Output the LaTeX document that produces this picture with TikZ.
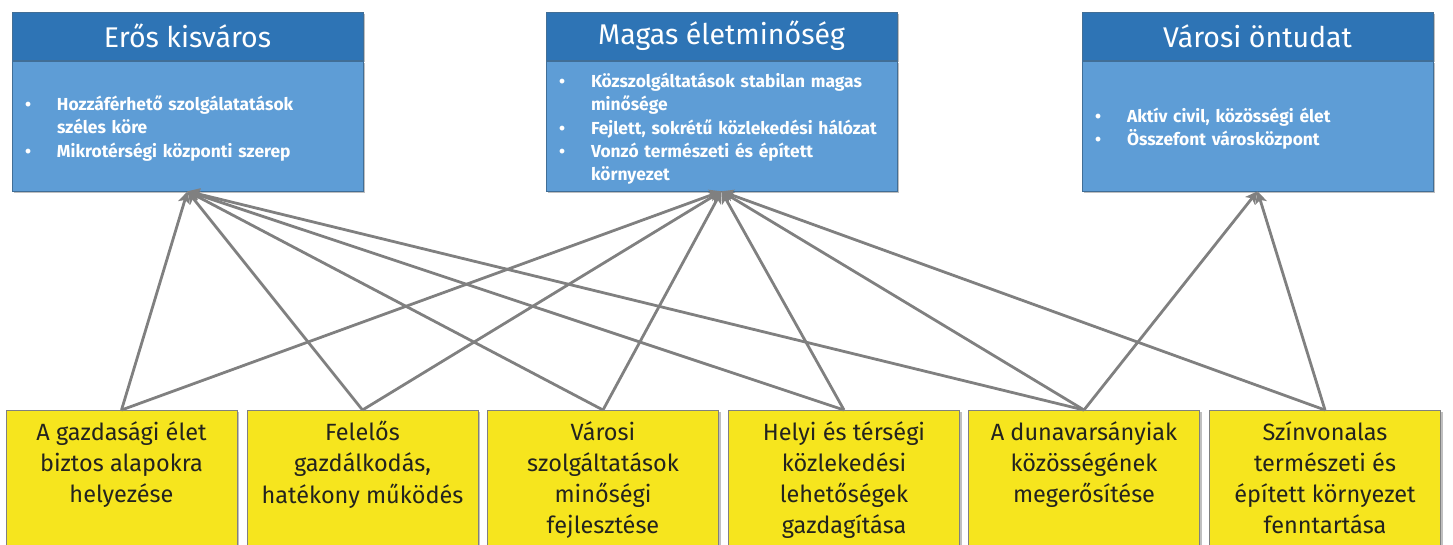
\documentclass[tikz,border=0pt]{standalone}
\usepackage{fontspec}
\setmainfont{Fira Sans}
\usetikzlibrary{arrows.meta,shadows}
\definecolor{hdrblue}{RGB}{46,116,181}
\definecolor{bodyblue}{RGB}{94,157,214}
\definecolor{edgeblue}{RGB}{65,110,150}
\definecolor{ylw}{RGB}{246,229,30}
\definecolor{conngray}{RGB}{128,128,128}
\definecolor{darktext}{RGB}{35,35,30}
\newcommand{\bitem}[1]{\par\noindent\makebox[32pt][l]{\textbullet}\begin{tabular}[t]{@{}l@{}}#1\end{tabular}}
\tikzset{
  shad/.style={drop shadow={shadow xshift=2pt,shadow yshift=-2pt,opacity=0.25,fill=black}},
  hdr/.style={shad,draw=edgeblue,line width=0.6pt,fill=hdrblue,minimum width=351pt,minimum height=48pt,inner sep=0pt,text=white,font=\fontsize{28.5}{32}\selectfont},
  bodybox/.style={shad,draw=edgeblue,line width=0.6pt,fill=bodyblue,minimum width=351pt,minimum height=130pt,inner xsep=13pt,inner ysep=0pt,text width=325pt,align=left,text=white,font=\fontsize{17.4}{23}\bfseries\selectfont},
  goalbox/.style={shad,draw=conngray,line width=0.8pt,fill=ylw,minimum width=231pt,minimum height=170pt,anchor=north,inner sep=0pt},
  goaltext/.style={anchor=north,inner sep=0pt,align=center,text=darktext,font=\fontsize{23.5}{31.2}\selectfont},
  conn/.style={draw=conngray,line width=2.8pt,-{Stealth[length=12pt,width=12pt,inset=3pt]}}
}
\begin{document}
\begin{tikzpicture}[x=1pt,y=-1pt]
\useasboundingbox (0,0) rectangle (1453,545);
\clip (0,0) rectangle (1453,545);
% top boxes
\node[hdr] (Ah) at (187.5,36) {Erős kisváros};
\node[bodybox] (Ab) at (187.5,126) {\bitem{Hozzáférhető szolgálatatások\\széles köre}\bitem{Mikrotérségi központi szerep}};
\node[hdr] (Bh) at (721.5,36) {Magas életminőség};
\node[bodybox] (Bb) at (721.5,126) {\bitem{Közszolgáltatások stabilan magas\\minősége}\bitem{Fejlett, sokrétű közlekedési hálózat}\bitem{Vonzó természeti és épített\\környezet}};
\node[hdr] (Ch) at (1257.5,36) {Városi öntudat};
\node[bodybox] (Cb) at (1257.5,126) {\bitem{Aktív civil, közösségi élet}\bitem{Összefont városközpont}};
% bottom boxes
\node[goalbox] (g1) at (121.5,410) {};
\node[goalbox] (g2) at (362.5,410) {};
\node[goalbox] (g3) at (603,410) {};
\node[goalbox] (g4) at (844,410) {};
\node[goalbox] (g5) at (1084,410) {};
\node[goalbox] (g6) at (1325,410) {};
\node[goaltext] (t1) at (121.5,421) {A gazdasági élet\\biztos alapokra\\helyezése};
\node[goaltext] (t2) at (362.5,421) {Felelős\\gazdálkodás,\\hatékony működés};
\node[goaltext] (t3) at (603,421) {Városi\\szolgáltatások\\minőségi\\fejlesztése};
\node[goaltext] (t4) at (844,421) {Helyi és térségi\\közlekedési\\lehetőségek\\gazdagítása};
\node[goaltext] (t5) at (1084,421) {A dunavarsányiak\\közösségének\\megerősítése};
\node[goaltext] (t6) at (1325,421) {Színvonalas\\természeti és\\épített környezet\\fenntartása};
% connectors
\foreach \g in {g1,g2,g3,g4,g5} \draw[conn] (\g.north) -- (Ab.south);
\foreach \g in {g1,g2,g3,g4,g5,g6} \draw[conn] (\g.north) -- (Bb.south);
\foreach \g in {g5,g6} \draw[conn] (\g.north) -- (Cb.south);
\end{tikzpicture}
\end{document}
